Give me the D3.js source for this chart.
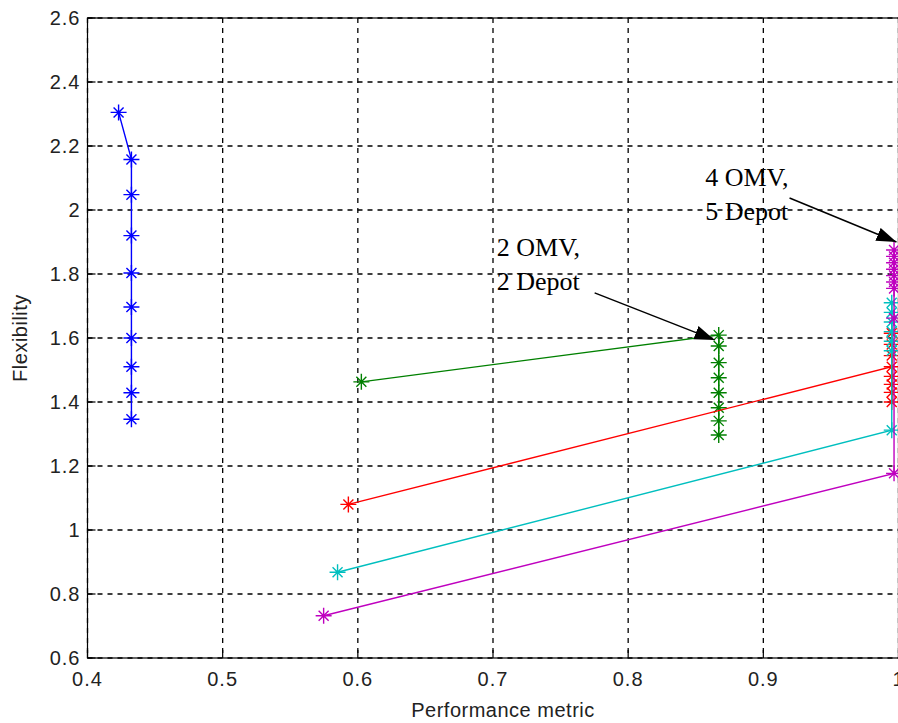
<!DOCTYPE html>
<html>
<head>
<meta charset="utf-8">
<script src="https://cdn.jsdelivr.net/npm/d3@7"></script>
<style>
	body{margin:0;background:#fff;}
	.TickLabels{font-family:"Liberation Sans",Arial,sans-serif;font-size:20px;letter-spacing:1px;fill:#222;}
	.AxisTitles{font-family:"Liberation Sans",Arial,sans-serif;font-size:20px;letter-spacing:0.5px;fill:#222;}
	.Notes{font-family:"Liberation Serif","Times New Roman",serif;font-size:26px;fill:#000;}
</style>
</head>
<body>
<div id="idChart"></div>
<script>
// tick values
var aXTicks=[0.4,0.5,0.6,0.7,0.8,0.9,1];
var aYTicks=[0.6,0.8,1,1.2,1.4,1.6,1.8,2,2.2,2.4,2.6];

// series: performance metric (x) vs flexibility (y)
var aBlueX=[0.423,0.4325,0.4325,0.4325,0.4325,0.4325,0.4325,0.4325,0.4325,0.4325];
var aBlueY=[2.305,2.158,2.048,1.920,1.803,1.697,1.600,1.510,1.429,1.346];

var aGreenX=[0.6026,0.867,0.867,0.867,0.867,0.867,0.867,0.867,0.867];
var aGreenY=[1.463,1.609,1.575,1.523,1.476,1.429,1.382,1.341,1.297];

var aRedX=[0.593,0.995,0.995,0.995,0.995,0.995,0.995,0.995,0.995];
var aRedY=[1.080,1.510,1.545,1.580,1.615,1.480,1.455,1.430,1.400];

var aCyanX=[0.585,0.995,0.995,0.995,0.995,0.995,0.995,0.995];
var aCyanY=[0.868,1.312,1.560,1.590,1.620,1.650,1.680,1.710];

var aMagentaX=[0.5747,0.9967,0.9967,0.9967,0.9967,0.9967,0.9967,0.9967,0.9967,0.9967];
var aMagentaY=[0.732,1.177,1.662,1.755,1.775,1.795,1.815,1.835,1.855,1.875];

function DrawFlexChart()
{
	var iWidth=898;
	var iHeight=723;
	var iLeft=87.5;
	var iRight=898.5;
	var iTop=18;
	var iBottom=658;
	var iTickLen=8;

	var mySvg;
	var myGraphics;

	function Render(){}

	Render.newChart = function()
	{
		mySvg=d3.select("#idChart").append("svg")
			.attr("width",iWidth)
			.attr("height",iHeight);
		myGraphics=mySvg.append("g");
		Render.update();
		return Render;
	};

	Render.update = function()
	{
		var xAxes=d3.scaleLinear().domain([0.4,1]).range([iLeft,iRight]);
		var yAxes=d3.scaleLinear().domain([0.6,2.6]).range([iBottom,iTop]);

		// grid
		myGraphics.selectAll(".GridX").data(aXTicks).enter().append("line")
			.attr("class","GridX")
			.attr("x1",function(d){return xAxes(d);})
			.attr("x2",function(d){return xAxes(d);})
			.attr("y1",iTop).attr("y2",iBottom)
			.attr("stroke","#000").attr("stroke-width",1.3)
			.attr("stroke-dasharray","5,5");
		myGraphics.selectAll(".GridY").data(aYTicks).enter().append("line")
			.attr("class","GridY")
			.attr("y1",function(d){return yAxes(d);})
			.attr("y2",function(d){return yAxes(d);})
			.attr("x1",iLeft).attr("x2",iRight)
			.attr("stroke","#000").attr("stroke-width",1.3)
			.attr("stroke-dasharray","5,5");

		// ticks (inside)
		myGraphics.selectAll(".TickX").data(aXTicks).enter().append("line")
			.attr("x1",function(d){return xAxes(d);})
			.attr("x2",function(d){return xAxes(d);})
			.attr("y1",iBottom).attr("y2",iBottom-iTickLen)
			.attr("stroke","#000").attr("stroke-width",1.2);
		myGraphics.selectAll(".TickY").data(aYTicks).enter().append("line")
			.attr("y1",function(d){return yAxes(d);})
			.attr("y2",function(d){return yAxes(d);})
			.attr("x1",iLeft).attr("x2",iLeft+iTickLen)
			.attr("stroke","#000").attr("stroke-width",1.2);

		// box
		myGraphics.append("rect")
			.attr("x",iLeft).attr("y",iTop)
			.attr("width",iRight-iLeft).attr("height",iBottom-iTop)
			.attr("fill","none").attr("stroke","#000").attr("stroke-width",1.2);

		// tick labels
		myGraphics.selectAll(".XLabels").data(aXTicks).enter().append("text")
			.attr("class","TickLabels")
			.attr("x",function(d){return xAxes(d);})
			.attr("y",iBottom+28)
			.attr("text-anchor","middle")
			.text(function(d){return d===1?"1":d3.format(".1f")(d);});
		myGraphics.selectAll(".YLabels").data(aYTicks).enter().append("text")
			.attr("class","TickLabels")
			.attr("x",iLeft-7)
			.attr("y",function(d){return yAxes(d)+7;})
			.attr("text-anchor","end")
			.text(function(d){return d===1||d===2?String(d):d3.format(".1f")(d);});

		// axis titles
		myGraphics.append("text")
			.attr("class","AxisTitles")
			.attr("x",(iLeft+iRight)/2+10)
			.attr("y",717)
			.attr("text-anchor","middle")
			.text("Performance metric");
		myGraphics.append("text")
			.attr("class","AxisTitles")
			.attr("transform","translate(27,"+((iTop+iBottom)/2)+") rotate(-90)")
			.attr("text-anchor","middle")
			.text("Flexibility");

		// series
		var aSeries=[
			{x:aBlueX,y:aBlueY,c:"#0000ff"},
			{x:aGreenX,y:aGreenY,c:"#008000"},
			{x:aRedX,y:aRedY,c:"#ff0000"},
			{x:aCyanX,y:aCyanY,c:"#00bfbf"},
			{x:aMagentaX,y:aMagentaY,c:"#bf00bf"}
		];
		var myLine=d3.line()
			.x(function(d){return xAxes(d[0]);})
			.y(function(d){return yAxes(d[1]);});
		var sStar="M-8,0H8M0,-8V8M-5,-5L5,5M-5,5L5,-5";

		aSeries.forEach(function(mySeries){
			var aPts=mySeries.x.map(function(v,i){return [v,mySeries.y[i]];});
			myGraphics.append("path")
				.attr("d",myLine(aPts))
				.attr("fill","none")
				.attr("stroke",mySeries.c)
				.attr("stroke-width",1.4);
			myGraphics.selectAll(null).data(aPts).enter().append("path")
				.attr("transform",function(d){return "translate("+xAxes(d[0])+","+yAxes(d[1])+")";})
				.attr("d",sStar)
				.attr("fill","none")
				.attr("stroke",mySeries.c)
				.attr("stroke-width",1.4);
		});

		// annotations
		mySvg.append("defs").append("marker")
			.attr("id","idArrow")
			.attr("markerUnits","userSpaceOnUse")
			.attr("markerWidth",22).attr("markerHeight",16)
			.attr("refX",20).attr("refY",7)
			.attr("orient","auto")
			.append("path")
			.attr("d","M0,0L20,7L0,14Z")
			.attr("fill","#000");

		var aNotes=[
			{lines:["2 OMV,","2 Depot"],tx:0.7028,ty:1.856,x1:0.7752,y1:1.741,x2:0.8639,y2:1.594},
			{lines:["4 OMV,","5 Depot"],tx:0.857,ty:2.075,x1:0.9194,y1:2.0375,x2:0.9985,y2:1.900}
		];
		aNotes.forEach(function(myNote){
			myGraphics.append("line")
				.attr("x1",xAxes(myNote.x1)).attr("y1",yAxes(myNote.y1))
				.attr("x2",xAxes(myNote.x2)).attr("y2",yAxes(myNote.y2))
				.attr("stroke","#000").attr("stroke-width",1.5)
				.attr("marker-end","url(#idArrow)");
			myNote.lines.forEach(function(sLine,i){
				myGraphics.append("text")
					.attr("class","Notes")
					.attr("x",xAxes(myNote.tx))
					.attr("y",yAxes(myNote.ty)+i*34)
					.text(sLine);
			});
		});

		return Render;
	};

	return Render;
}

DrawFlexChart().newChart();
</script>
</body>
</html>
